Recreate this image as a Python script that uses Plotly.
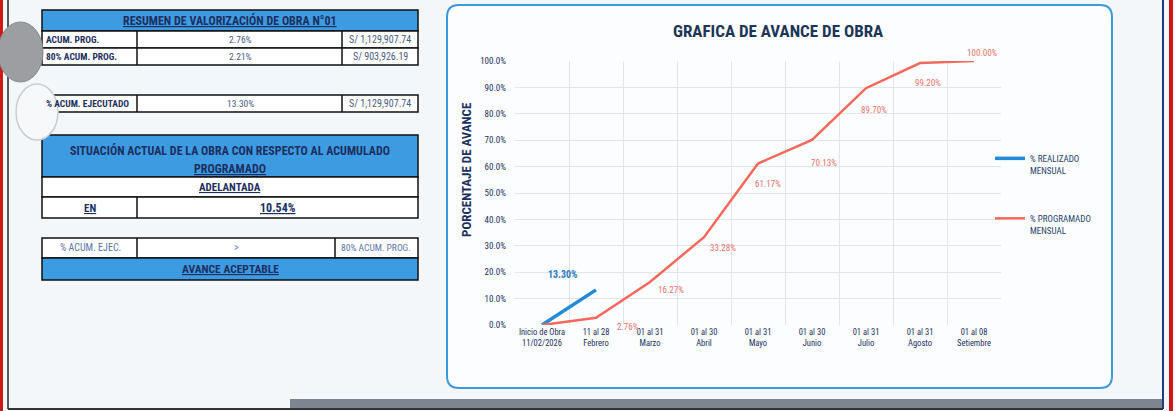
import plotly.graph_objects as go

# ---------------- data ----------------
categories = ["Inicio de Obra<br>11/02/2026", "11 al 28<br>Febrero", "01 al 31<br>Marzo",
              "01 al 30<br>Abril", "01 al 31<br>Mayo", "01 al 30<br>Junio",
              "01 al 31<br>Julio", "01 al 31<br>Agosto", "01 al 08<br>Setiembre"]
programado = [0.0, 0.0276, 0.1627, 0.3328, 0.6117, 0.7013, 0.8970, 0.9920, 1.0000]
realizado = [0.0, 0.1330]
y_ticks = [0.0, 0.1, 0.2, 0.3, 0.4, 0.5, 0.6, 0.7, 0.8, 0.9, 1.0]

resumen_rows = [["ACUM. PROG.", "2.76%", "S/ 1,129,907.74"],
                ["80% ACUM. PROG.", "2.21%", "S/ 903,926.19"]]
ejecutado_row = ["% ACUM. EJECUTADO", "13.30%", "S/ 1,129,907.74"]
situacion = "ADELANTADA"
situacion_pct = "10.54%"
comparacion = ["% ACUM. EJEC.", ">", "80% ACUM. PROG."]
resultado = "AVANCE ACEPTABLE"

# ---------------- style ----------------
FONT = "Liberation Sans Narrow, Arial Narrow, Roboto Condensed, Roboto, sans-serif"
NAVY = "#1d2f5e"
RED = "#f2695c"
BLUE = "#2389d9"
HEAD = "#3d9be2"

PL, PR, PT, PB = 515, 1001, 61, 325
W, H = 1175, 411


def fx(x):
    return (x - PL) / (PR - PL)


def fy(y):
    return (PB - y) / (PB - PT)


fig = go.Figure()
fig.add_trace(go.Scatter(x=categories[:len(realizado)], y=realizado, mode="lines",
                         line=dict(color=BLUE, width=3.5), name="% REALIZADO<br>MENSUAL",
                         legend="legend", showlegend=True, cliponaxis=False, hoverinfo="skip"))
fig.add_trace(go.Scatter(x=categories, y=programado, mode="lines",
                         line=dict(color=RED, width=2.5), name="% PROGRAMADO<br>MENSUAL",
                         legend="legend2", showlegend=True, cliponaxis=False, hoverinfo="skip"))

annotations = []
# red data labels (offsets in pixels)
red_off = [None, (32, -9), (21, -8), (19, -11), (10, -20), (12, -23), (8, -22), (8, -20), (8, 8)]
for i, v in enumerate(programado):
    if red_off[i] is None:
        continue
    annotations.append(dict(x=categories[i], y=v, xref="x", yref="y", text=f"{v:.2%}",
                            showarrow=False, xshift=red_off[i][0], yshift=red_off[i][1],
                            xanchor="center", yanchor="middle",
                            font=dict(family=FONT, size=9, color="#e8706a")))
annotations.append(dict(x=categories[len(realizado) - 1], y=realizado[-1], xref="x", yref="y",
                        text=f"<b>{realizado[-1]:.2%}</b>", showarrow=False, xshift=-33, yshift=15,
                        xanchor="center", yanchor="middle",
                        font=dict(family=FONT, size=10, color="#2c7cc4")))

shapes = []


def rect(x0, y0, x1, y1, fill="rgba(0,0,0,0)", line="#111111", lw=1.5, layer="below"):
    shapes.append(dict(type="rect", xref="paper", yref="paper", x0=fx(x0), x1=fx(x1),
                       y0=fy(y1), y1=fy(y0), fillcolor=fill, line=dict(color=line, width=lw), layer=layer))


def vline(x, y0, y1, color="#111111", lw=1.5):
    shapes.append(dict(type="line", xref="paper", yref="paper", x0=fx(x), x1=fx(x),
                       y0=fy(y0), y1=fy(y1), line=dict(color=color, width=lw)))


def text(x, y, s, size=8, color=NAVY, anchor="center", angle=0):
    annotations.append(dict(x=fx(x), y=fy(y), xref="paper", yref="paper", text=s, showarrow=False,
                            xanchor=anchor, yanchor="middle", textangle=angle,
                            font=dict(family=FONT, size=size, color=color)))


# chart title and axis title
text(778, 31, "<b>GRAFICA DE AVANCE DE OBRA</b>", size=17, color="#1d3557")
text(466, 170, "<b>PORCENTAJE DE AVANCE</b>", size=13, color=NAVY, angle=-90)

# page background / frame
rect(0, 0, 3, H, fill="#d01818", line="#d01818", lw=0)
rect(1169, 0, 1173, H, fill="#d01818", line="#d01818", lw=0)
rect(290, 399, 1163, 409, fill="#7d8590", line="#7d8590", lw=0)
vline(8, 0, 409, color="#222222", lw=1.5)
vline(1163, 0, 409, color="#1f3d80", lw=2)
shapes.append(dict(type="line", xref="paper", yref="paper", x0=fx(8), x1=fx(1163), y0=fy(409), y1=fy(409),
                   line=dict(color="#333333", width=2)))

# chart box (rounded)
x0, y0, x1, y1 = fx(447), fy(5), fx(1112), fy(388)
rx = 12 / (PR - PL)
ry = 12 / (PB - PT)
path = (f"M {x0 + rx},{y0} L {x1 - rx},{y0} Q {x1},{y0} {x1},{y0 - ry} L {x1},{y1 + ry} "
        f"Q {x1},{y1} {x1 - rx},{y1} L {x0 + rx},{y1} Q {x0},{y1} {x0},{y1 + ry} "
        f"L {x0},{y0 - ry} Q {x0},{y0} {x0 + rx},{y0} Z")
shapes.append(dict(type="path", xref="paper", yref="paper", path=path, fillcolor="#fbfdfe",
                   line=dict(color="#3b9ad8", width=2), layer="below"))

VAL = "#4a5a80"

# table 1: resumen
L, R = 42, 418
rect(L, 10, R, 31, fill=HEAD)
text((L + R) / 2, 20.5, "<b><u>RESUMEN DE VALORIZACIÓN DE OBRA N°01</u></b>", size=12)
for k, row in enumerate(resumen_rows):
    ya, yb = 31 + 17 * k, 48 + 17 * k
    rect(L, ya, R, yb, fill="#ffffff")
    vline(137, ya, yb)
    vline(342, ya, yb)
    text(L + 2, (ya + yb) / 2, f"<b>{row[0]}</b>", size=9.5, anchor="left")
    text(240, (ya + yb) / 2, row[1], size=9.5, color=VAL)
    text(380, (ya + yb) / 2, row[2], size=10, color=VAL)

# table 2: ejecutado
rect(L, 95, R, 112, fill="#ffffff")
vline(137, 95, 112)
vline(342, 95, 112)
text(L + 2, 103.5, f"<b>{ejecutado_row[0]}</b>", size=9.5, anchor="left")
text(240, 103.5, ejecutado_row[1], size=9.5, color=VAL)
text(380, 103.5, ejecutado_row[2], size=10, color=VAL)

# table 3: situacion
rect(L, 135, R, 177, fill=HEAD)
text((L + R) / 2, 150, "<b>SITUACIÓN ACTUAL DE LA OBRA CON RESPECTO AL ACUMULADO</b>", size=12)
text((L + R) / 2, 169, "<b><u>PROGRAMADO</u></b>", size=12)
rect(L, 177, R, 197, fill="#ffffff")
text((L + R) / 2, 187, f"<b><u>{situacion}</u></b>", size=11)
rect(L, 197, R, 218, fill="#ffffff")
vline(137, 197, 218)
text(90, 208, "<b><u>EN</u></b>", size=11)
text(278, 208, f"<b><u>{situacion_pct}</u></b>", size=12)

# table 4: comparacion
rect(L, 238, R, 258, fill="#ffffff")
vline(137, 238, 258)
vline(335, 238, 258)
text(90, 248, comparacion[0], size=10, color="#5a74a8")
text(236, 248, comparacion[1], size=10, color="#5a74a8")
text(376, 248, comparacion[2], size=9.5, color="#5a74a8")
rect(L, 258, R, 280, fill=HEAD)
text((L + R) / 2, 269, f"<b><u>{resultado}</u></b>", size=11.5)

# punch holes
shapes.append(dict(type="circle", xref="paper", yref="paper", x0=fx(-2), x1=fx(43), y0=fy(82), y1=fy(22),
                   fillcolor="#9c9ea2", line=dict(color="#8a8c90", width=1), layer="above"))
shapes.append(dict(type="circle", xref="paper", yref="paper", x0=fx(16), x1=fx(58), y0=fy(140), y1=fy(84),
                   fillcolor="#f7f8fa", line=dict(color="#c9ccd2", width=1.5), layer="above"))

fig.update_layout(
    width=W, height=H,
    margin=dict(l=PL, r=W - PR, t=PT, b=H - PB, autoexpand=False),
    paper_bgcolor="#f3f7fa",
    plot_bgcolor="rgba(0,0,0,0)",
    font=dict(family=FONT, color=NAVY),
    showlegend=True,
    hovermode=False,
    shapes=shapes,
    annotations=annotations,
    legend=dict(x=fx(990), y=fy(146), xanchor="left", yanchor="top", valign="top", visible=True,
                bgcolor="rgba(0,0,0,0)", font=dict(family=FONT, size=9, color="#2a3f6b")),
    legend2=dict(x=fx(990), y=fy(206), xanchor="left", yanchor="top", valign="top", visible=True,
                 bgcolor="rgba(0,0,0,0)", font=dict(family=FONT, size=9, color="#2a3f6b")),
    xaxis=dict(type="category", categoryarray=categories, range=[-0.5, len(categories) - 0.5],
               tickson="boundaries", showgrid=True, gridcolor="#e1e6ec", gridwidth=1,
               ticks="", showline=False, zeroline=False, tickangle=0, automargin=False,
               tickfont=dict(family=FONT, size=8.5, color=NAVY)),
    yaxis=dict(range=[0, 1.0], tickvals=y_ticks, tickformat=".1%", showgrid=True,
               gridcolor="#e1e6ec", gridwidth=1, zeroline=False, showline=False, ticks="",
               automargin=False, ticklabelstandoff=8, tickfont=dict(family=FONT, size=9, color=NAVY)),
)

fig.write_html("out.html", config={"displayModeBar": False},
               post_script="document.body.style.margin='0';document.body.style.overflow='hidden';")
